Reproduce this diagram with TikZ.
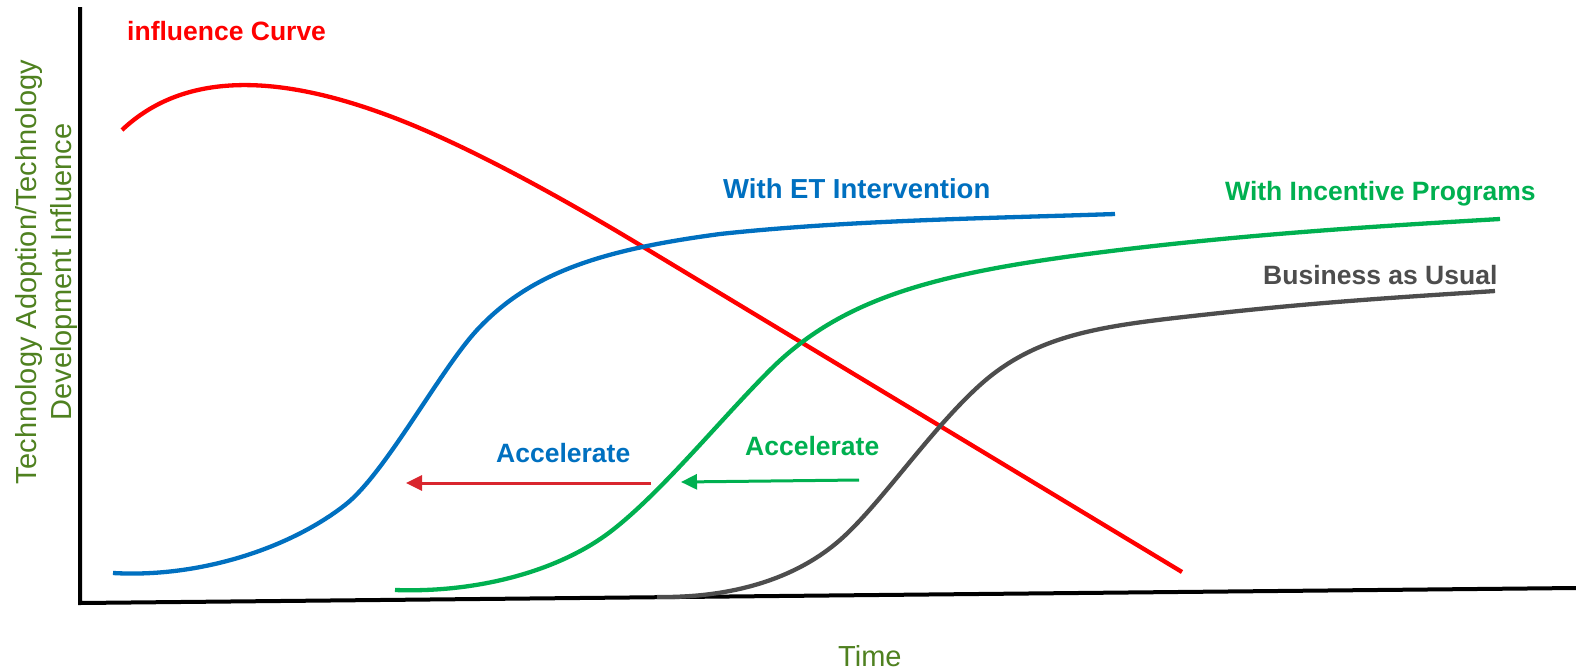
\documentclass[tikz,border=0pt]{standalone}
\usepackage{fontspec}
\setmainfont{Liberation Sans}
\usetikzlibrary{arrows.meta}
\definecolor{cred}{HTML}{FF0000}
\definecolor{cblue}{HTML}{0070C0}
\definecolor{cgreen}{HTML}{00B050}
\definecolor{cgray}{HTML}{4D4D4D}
\definecolor{carrowred}{HTML}{D9262E}
\definecolor{caxis}{HTML}{4F8120}
\tikzset{
  curve/.style={line width=4.3pt, line cap=butt},
  lbl/.style={font=\fontsize{26.5}{30}\selectfont\bfseries, inner sep=0pt, anchor=base west},
  axlbl/.style={font=\fontsize{29}{35}\selectfont, text=caxis, inner sep=0pt},
  accarrow/.style={line width=3pt, -{Triangle[length=16pt,width=15pt]}},
}
\begin{document}
\begin{tikzpicture}[x=1pt,y=-1pt]
\useasboundingbox (0,0) rectangle (1576,670);
% axes
\coordinate (ytop) at (80,7);
\coordinate (orig) at (80,603);
\coordinate (xend) at (1576,588);
\draw[line width=4pt, line join=miter] (ytop) -- (orig) -- (xend);
% curves
\draw[curve, cred] (122,130) .. controls (175,80) and (260,65) .. (400,120)
  .. controls (470,147.5) and (557,195) .. (640,245) -- (1182,572);
\draw[curve, cblue] (113,573) .. controls (200,578) and (290,548) .. (345,505)
  .. controls (385,474) and (440,370) .. (477,330)
  .. controls (530,273) and (600,250) .. (720,234)
  .. controls (850,220) and (1000,218) .. (1115,214);
\draw[curve, cgreen] (395,590) .. controls (480,593) and (560,570) .. (610,532)
  .. controls (660,494) and (720,420) .. (770,370)
  .. controls (840,300) and (930,275) .. (1080,255)
  .. controls (1230,235) and (1380,226) .. (1500,219);
\draw[curve, cgray] (657,597) .. controls (740,598) and (800,575) .. (840,540)
  .. controls (880,505) and (930,430) .. (980,385)
  .. controls (1040,331) and (1110,325) .. (1220,313)
  .. controls (1330,301) and (1420,296) .. (1495,291);
% labels
\node[lbl, text=cred] (infl) at (127,40) {influence Curve};
\node[lbl, text=cblue, font=\fontsize{27.5}{30}\selectfont\bfseries] (et) at (723,198) {With ET Intervention};
\node[lbl, text=cgreen] (inc) at (1225,200) {With Incentive Programs};
\node[lbl, text=cgray] (bau) at (1263,284) {Business as Usual};
\node[lbl, text=cblue] (accb) at (496,462) {Accelerate};
\node[lbl, text=cgreen] (accg) at (745,455) {Accelerate};
% arrows
\coordinate (ra1) at (651,483);
\coordinate (ra2) at (406,483);
\coordinate (ga1) at (859,480);
\coordinate (ga2) at (681,482);
\draw[accarrow, carrowred] (ra1) -- (ra2);
\draw[accarrow, cgreen] (ga1) -- (ga2);
% axis labels
\node[axlbl, anchor=base west] (time) at (838,666) {Time};
\node[axlbl, rotate=90, align=center] (ylab) at (47,272) {Technology Adoption/Technology\\Development Influence};
\end{tikzpicture}
\end{document}
